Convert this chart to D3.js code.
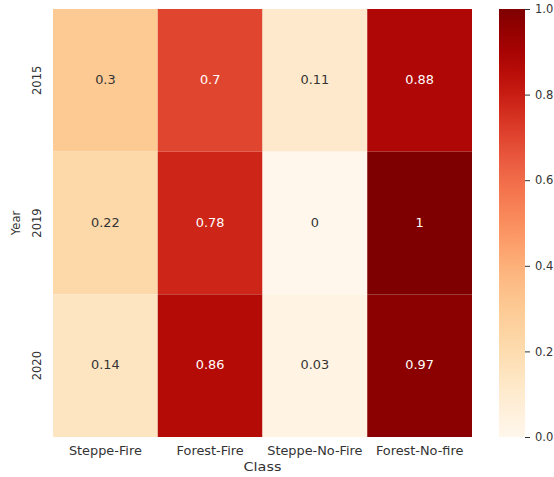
<!DOCTYPE html>
<html>
<head>
<meta charset="utf-8">
<script src="https://cdn.jsdelivr.net/npm/d3@7"></script>
<style>
  body { margin: 0; background: #fff; }
  svg text { font-family: "DejaVu Sans", sans-serif; }
</style>
</head>
<body>
<svg id="chart" width="554" height="477"></svg>
<script>
// data
const years = ["2015", "2019", "2020"];
const classes = ["Steppe-Fire", "Forest-Fire", "Steppe-No-Fire", "Forest-No-fire"];
const values2015 = [0.3, 0.7, 0.11, 0.88];
const values2019 = [0.22, 0.78, 0, 1];
const values2020 = [0.14, 0.86, 0.03, 0.97];
const colorTicks = [0, 0.2, 0.4, 0.6, 0.8, 1.0];

const rows = [values2015, values2019, values2020];
const cells = [];
rows.forEach((r, i) => r.forEach((v, j) => cells.push({ year: years[i], cls: classes[j], value: v })));

// layout
const plotLeft = 53, plotRight = 472, plotTop = 9, plotBottom = 437;
const cbLeft = 499, cbRight = 525;
// the reference text is a bit wider than tall
const stretch = "scale(1.12,1)";

const svg = d3.select("#chart");

const x = d3.scaleBand().domain(classes).range([plotLeft, plotRight]);
const y = d3.scaleBand().domain(years).range([plotTop, plotBottom]);
const color = d3.scaleSequential(d3.interpolateOrRd).domain([0, 1]);

function textColor(c) {
  const rgb = d3.rgb(c);
  const lum = [rgb.r, rgb.g, rgb.b].map(v => {
    v /= 255;
    return v <= 0.03928 ? v / 12.92 : Math.pow((v + 0.055) / 1.055, 2.4);
  });
  const l = 0.2126 * lum[0] + 0.7152 * lum[1] + 0.0722 * lum[2];
  return l > 0.408 ? "#333333" : "#ffffff";
}

// cells
svg.append("g").selectAll("rect")
  .data(cells)
  .enter().append("rect")
  .attr("x", d => x(d.cls))
  .attr("y", d => y(d.year))
  .attr("width", x.bandwidth())
  .attr("height", y.bandwidth())
  .attr("fill", d => color(d.value));

svg.append("g").selectAll("text")
  .data(cells)
  .enter().append("text")
  .attr("transform", d => `translate(${x(d.cls) + x.bandwidth() / 2},${y(d.year) + y.bandwidth() / 2}) ${stretch}`)
  .attr("text-anchor", "middle")
  .attr("dominant-baseline", "central")
  .attr("font-size", 11.5)
  .attr("fill", d => textColor(color(d.value)))
  .text(d => d.value);

// x axis
const xAxis = d3.axisBottom(x).tickSize(0).tickPadding(10);
const gx = svg.append("g").attr("transform", `translate(0,${plotBottom})`).call(xAxis);
gx.select(".domain").remove();
gx.selectAll("text")
  .attr("font-size", 11.5).attr("fill", "#333")
  .attr("font-family", "DejaVu Sans, sans-serif")
  .attr("transform", stretch);

svg.append("text")
  .attr("transform", `translate(${(plotLeft + plotRight) / 2},471) scale(1.2,1)`)
  .attr("text-anchor", "middle")
  .attr("font-size", 12)
  .attr("fill", "#333")
  .text("Class");

// y axis
const gy = svg.append("g");
years.forEach(yr => {
  gy.append("text")
    .attr("transform", `translate(41,${y(yr) + y.bandwidth() / 2}) rotate(-90)`)
    .attr("text-anchor", "middle")
    .attr("font-size", 11.5)
    .attr("fill", "#333")
    .text(yr);
});
svg.append("text")
  .attr("transform", `translate(20,${(plotTop + plotBottom) / 2}) rotate(-90)`)
  .attr("text-anchor", "middle")
  .attr("font-size", 11.5)
  .attr("fill", "#333")
  .text("Year");

// colorbar
const defs = svg.append("defs");
const grad = defs.append("linearGradient")
  .attr("id", "cb").attr("x1", 0).attr("y1", 1).attr("x2", 0).attr("y2", 0);
d3.range(0, 1.0001, 0.05).forEach(t => {
  grad.append("stop").attr("offset", t).attr("stop-color", color(t));
});
svg.append("rect")
  .attr("x", cbLeft).attr("y", plotTop)
  .attr("width", cbRight - cbLeft).attr("height", plotBottom - plotTop)
  .attr("fill", "url(#cb)");

const cy = d3.scaleLinear().domain([0, 1]).range([plotBottom, plotTop]);
const cAxis = d3.axisRight(cy).tickValues(colorTicks).tickFormat(d3.format(".1f")).tickSize(5).tickPadding(5);
const gc = svg.append("g").attr("transform", `translate(${cbRight},0)`).call(cAxis);
gc.select(".domain").remove();
gc.selectAll("line").attr("stroke", "#333");
gc.selectAll("text")
  .attr("font-size", 11.5).attr("fill", "#333")
  .attr("font-family", "DejaVu Sans, sans-serif");
</script>
</body>
</html>
